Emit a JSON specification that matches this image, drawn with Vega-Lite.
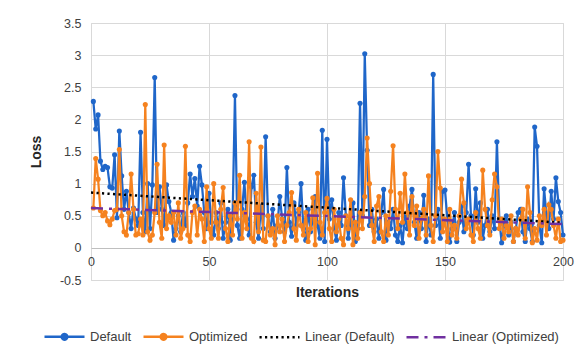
{
  "$schema": "https://vega.github.io/schema/vega-lite/v6.json",
  "width": 472,
  "height": 257,
  "autosize": {"type": "none"},
  "padding": {"left": 91, "top": 23, "right": 16, "bottom": 81},
  "background": "white",
  "config": {
    "font": "Liberation Sans",
    "view": {"stroke": "#D9D9D9"},
    "axis": {
      "labelFont": "Liberation Sans",
      "labelFontSize": 12.5,
      "labelColor": "#404040",
      "titleFont": "Liberation Sans",
      "titleFontSize": 14,
      "titleFontWeight": "bold",
      "titleColor": "#262626",
      "gridColor": "#D9D9D9",
      "gridWidth": 1,
      "ticks": false
    }
  },
  "datasets": {
    "loss": [
      {"iteration":1,"Default":2.28,"Optimized":0.62},{"iteration":2,"Default":1.85,"Optimized":1.39},{"iteration":3,"Default":2.07,"Optimized":1.07},{"iteration":4,"Default":1.35,"Optimized":0.58},{"iteration":5,"Default":1.22,"Optimized":0.5},
      {"iteration":6,"Default":1.27,"Optimized":0.55},{"iteration":7,"Default":1.25,"Optimized":0.42},{"iteration":8,"Default":0.95,"Optimized":0.36},{"iteration":9,"Default":0.93,"Optimized":0.45},{"iteration":10,"Default":1.45,"Optimized":0.58},
      {"iteration":11,"Default":0.47,"Optimized":0.6},{"iteration":12,"Default":1.82,"Optimized":1.53},{"iteration":13,"Default":1.12,"Optimized":0.5},{"iteration":14,"Default":0.6,"Optimized":0.25},{"iteration":15,"Default":0.88,"Optimized":0.2},
      {"iteration":16,"Default":0.55,"Optimized":0.55},{"iteration":17,"Default":0.3,"Optimized":1.15},{"iteration":18,"Default":0.62,"Optimized":0.6},{"iteration":19,"Default":0.45,"Optimized":0.2},{"iteration":20,"Default":0.35,"Optimized":0.22},
      {"iteration":21,"Default":1.8,"Optimized":0.45},{"iteration":22,"Default":0.55,"Optimized":0.2},{"iteration":23,"Default":0.25,"Optimized":2.23},{"iteration":24,"Default":1.0,"Optimized":0.25},{"iteration":25,"Default":0.3,"Optimized":0.12},
      {"iteration":26,"Default":0.98,"Optimized":0.2},{"iteration":27,"Default":2.65,"Optimized":0.55},{"iteration":28,"Default":0.55,"Optimized":1.3},{"iteration":29,"Default":0.95,"Optimized":0.4},{"iteration":30,"Default":0.6,"Optimized":0.15},
      {"iteration":31,"Default":0.35,"Optimized":1.6},{"iteration":32,"Default":0.98,"Optimized":0.3},{"iteration":33,"Default":0.72,"Optimized":0.5},{"iteration":34,"Default":0.55,"Optimized":0.4},{"iteration":35,"Default":0.12,"Optimized":0.55},
      {"iteration":36,"Default":0.3,"Optimized":0.2},{"iteration":37,"Default":0.5,"Optimized":0.7},{"iteration":38,"Default":0.25,"Optimized":0.15},{"iteration":39,"Default":0.55,"Optimized":0.3},{"iteration":40,"Default":0.35,"Optimized":1.58},
      {"iteration":41,"Default":0.7,"Optimized":0.2},{"iteration":42,"Default":1.15,"Optimized":0.1},{"iteration":43,"Default":0.8,"Optimized":0.55},{"iteration":44,"Default":1.08,"Optimized":0.65},{"iteration":45,"Default":0.65,"Optimized":0.2},
      {"iteration":46,"Default":1.27,"Optimized":0.6},{"iteration":47,"Default":0.98,"Optimized":0.45},{"iteration":48,"Default":0.55,"Optimized":0.1},{"iteration":49,"Default":0.3,"Optimized":0.95},{"iteration":50,"Default":0.85,"Optimized":0.3},
      {"iteration":51,"Default":0.4,"Optimized":0.15},{"iteration":52,"Default":0.2,"Optimized":1.0},{"iteration":53,"Default":0.55,"Optimized":0.4},{"iteration":54,"Default":0.3,"Optimized":0.15},{"iteration":55,"Default":0.7,"Optimized":0.6},
      {"iteration":56,"Default":0.15,"Optimized":0.94},{"iteration":57,"Default":0.4,"Optimized":0.3},{"iteration":58,"Default":0.6,"Optimized":0.1},{"iteration":59,"Default":0.12,"Optimized":0.5},{"iteration":60,"Default":0.5,"Optimized":0.2},
      {"iteration":61,"Default":2.37,"Optimized":0.7},{"iteration":62,"Default":0.35,"Optimized":0.45},{"iteration":63,"Default":0.15,"Optimized":1.13},{"iteration":64,"Default":0.6,"Optimized":0.15},{"iteration":65,"Default":1.02,"Optimized":0.55},
      {"iteration":66,"Default":0.45,"Optimized":0.3},{"iteration":67,"Default":0.2,"Optimized":1.65},{"iteration":68,"Default":0.95,"Optimized":0.15},{"iteration":69,"Default":1.13,"Optimized":0.1},{"iteration":70,"Default":0.4,"Optimized":0.85},
      {"iteration":71,"Default":0.15,"Optimized":0.25},{"iteration":72,"Default":0.65,"Optimized":1.57},{"iteration":73,"Default":0.3,"Optimized":0.12},{"iteration":74,"Default":1.73,"Optimized":0.1},{"iteration":75,"Default":0.5,"Optimized":0.5},
      {"iteration":76,"Default":0.25,"Optimized":0.2},{"iteration":77,"Default":0.6,"Optimized":0.3},{"iteration":78,"Default":0.15,"Optimized":0.05},{"iteration":79,"Default":0.35,"Optimized":0.5},{"iteration":80,"Default":0.8,"Optimized":0.25},
      {"iteration":81,"Default":0.45,"Optimized":0.45},{"iteration":82,"Default":0.25,"Optimized":0.1},{"iteration":83,"Default":1.25,"Optimized":0.35},{"iteration":84,"Default":0.4,"Optimized":0.55},{"iteration":85,"Default":0.18,"Optimized":0.86},
      {"iteration":86,"Default":0.7,"Optimized":0.3},{"iteration":87,"Default":0.35,"Optimized":0.12},{"iteration":88,"Default":0.55,"Optimized":0.6},{"iteration":89,"Default":1.0,"Optimized":0.35},{"iteration":90,"Default":0.3,"Optimized":0.2},
      {"iteration":91,"Default":0.12,"Optimized":0.55},{"iteration":92,"Default":0.6,"Optimized":0.1},{"iteration":93,"Default":0.25,"Optimized":0.3},{"iteration":94,"Default":0.45,"Optimized":0.78},{"iteration":95,"Default":0.8,"Optimized":0.05},
      {"iteration":96,"Default":0.35,"Optimized":1.16},{"iteration":97,"Default":0.15,"Optimized":0.4},{"iteration":98,"Default":1.83,"Optimized":0.2},{"iteration":99,"Default":0.1,"Optimized":0.55},{"iteration":100,"Default":1.69,"Optimized":0.77},
      {"iteration":101,"Default":0.45,"Optimized":0.3},{"iteration":102,"Default":0.75,"Optimized":0.1},{"iteration":103,"Default":0.3,"Optimized":0.6},{"iteration":104,"Default":0.12,"Optimized":0.25},{"iteration":105,"Default":0.55,"Optimized":0.45},
      {"iteration":106,"Default":0.35,"Optimized":0.15},{"iteration":107,"Default":1.09,"Optimized":0.05},{"iteration":108,"Default":0.5,"Optimized":0.5},{"iteration":109,"Default":0.15,"Optimized":0.3},{"iteration":110,"Default":0.4,"Optimized":0.75},
      {"iteration":111,"Default":0.7,"Optimized":0.05},{"iteration":112,"Default":0.1,"Optimized":0.4},{"iteration":113,"Default":0.3,"Optimized":0.15},{"iteration":114,"Default":2.25,"Optimized":0.55},{"iteration":115,"Default":0.5,"Optimized":0.3},
      {"iteration":116,"Default":3.02,"Optimized":0.8},{"iteration":117,"Default":1.52,"Optimized":1.71},{"iteration":118,"Default":0.35,"Optimized":1.0},{"iteration":119,"Default":0.6,"Optimized":0.35},{"iteration":120,"Default":0.25,"Optimized":0.1},
      {"iteration":121,"Default":0.45,"Optimized":0.65},{"iteration":122,"Default":0.15,"Optimized":0.8},{"iteration":123,"Default":0.55,"Optimized":0.25},{"iteration":124,"Default":0.91,"Optimized":0.1},{"iteration":125,"Default":0.12,"Optimized":0.5},
      {"iteration":126,"Default":0.4,"Optimized":0.2},{"iteration":127,"Default":0.3,"Optimized":0.88},{"iteration":128,"Default":0.6,"Optimized":1.59},{"iteration":129,"Default":0.2,"Optimized":0.6},{"iteration":130,"Default":0.1,"Optimized":0.3},
      {"iteration":131,"Default":0.35,"Optimized":0.85},{"iteration":132,"Default":0.08,"Optimized":0.4},{"iteration":133,"Default":0.5,"Optimized":1.15},{"iteration":134,"Default":0.3,"Optimized":0.55},{"iteration":135,"Default":0.65,"Optimized":0.2},
      {"iteration":136,"Default":0.91,"Optimized":0.8},{"iteration":137,"Default":0.4,"Optimized":0.35},{"iteration":138,"Default":0.15,"Optimized":0.65},{"iteration":139,"Default":0.55,"Optimized":0.15},{"iteration":140,"Default":0.3,"Optimized":0.45},
      {"iteration":141,"Default":0.82,"Optimized":0.6},{"iteration":142,"Default":0.1,"Optimized":0.2},{"iteration":143,"Default":0.45,"Optimized":1.12},{"iteration":144,"Default":0.2,"Optimized":0.35},{"iteration":145,"Default":2.7,"Optimized":0.1},
      {"iteration":146,"Default":0.35,"Optimized":0.5},{"iteration":147,"Default":0.6,"Optimized":1.5},{"iteration":148,"Default":0.15,"Optimized":0.93},{"iteration":149,"Default":0.88,"Optimized":0.25},{"iteration":150,"Default":0.9,"Optimized":0.45},
      {"iteration":151,"Default":0.45,"Optimized":0.1},{"iteration":152,"Default":0.09,"Optimized":0.6},{"iteration":153,"Default":0.3,"Optimized":0.2},{"iteration":154,"Default":0.55,"Optimized":0.35},{"iteration":155,"Default":0.1,"Optimized":0.15},
      {"iteration":156,"Default":0.4,"Optimized":0.5},{"iteration":157,"Default":0.65,"Optimized":1.07},{"iteration":158,"Default":0.25,"Optimized":0.7},{"iteration":159,"Default":0.55,"Optimized":0.3},{"iteration":160,"Default":1.3,"Optimized":0.45},
      {"iteration":161,"Default":0.5,"Optimized":0.2},{"iteration":162,"Default":0.2,"Optimized":0.1},{"iteration":163,"Default":0.92,"Optimized":0.55},{"iteration":164,"Default":0.4,"Optimized":0.3},{"iteration":165,"Default":0.7,"Optimized":0.15},
      {"iteration":166,"Default":0.15,"Optimized":1.21},{"iteration":167,"Default":0.35,"Optimized":0.6},{"iteration":168,"Default":0.6,"Optimized":0.35},{"iteration":169,"Default":0.25,"Optimized":0.2},{"iteration":170,"Default":0.5,"Optimized":0.75},
      {"iteration":171,"Default":0.3,"Optimized":1.15},{"iteration":172,"Default":1.65,"Optimized":0.95},{"iteration":173,"Default":0.45,"Optimized":0.3},{"iteration":174,"Default":0.08,"Optimized":0.45},{"iteration":175,"Default":0.35,"Optimized":0.15},
      {"iteration":176,"Default":0.5,"Optimized":0.35},{"iteration":177,"Default":0.2,"Optimized":0.25},{"iteration":178,"Default":0.4,"Optimized":0.5},{"iteration":179,"Default":0.1,"Optimized":0.1},{"iteration":180,"Default":0.3,"Optimized":0.3},
      {"iteration":181,"Default":0.55,"Optimized":0.2},{"iteration":182,"Default":0.6,"Optimized":0.45},{"iteration":183,"Default":0.25,"Optimized":0.6},{"iteration":184,"Default":0.1,"Optimized":0.15},{"iteration":185,"Default":0.45,"Optimized":0.95},
      {"iteration":186,"Default":0.3,"Optimized":0.55},{"iteration":187,"Default":0.1,"Optimized":0.08},{"iteration":188,"Default":1.88,"Optimized":0.3},{"iteration":189,"Default":1.58,"Optimized":0.12},{"iteration":190,"Default":0.35,"Optimized":0.5},
      {"iteration":191,"Default":0.08,"Optimized":0.35},{"iteration":192,"Default":0.92,"Optimized":0.6},{"iteration":193,"Default":0.5,"Optimized":0.2},{"iteration":194,"Default":0.3,"Optimized":0.67},{"iteration":195,"Default":0.88,"Optimized":0.6},
      {"iteration":196,"Default":0.45,"Optimized":0.35},{"iteration":197,"Default":1.09,"Optimized":0.15},{"iteration":198,"Default":0.72,"Optimized":0.45},{"iteration":199,"Default":0.55,"Optimized":0.1},{"iteration":200,"Default":0.2,"Optimized":0.12}
    ],
    "trend": [
      {"series": "Linear (Default)", "iteration": 0, "loss": 0.86},
      {"series": "Linear (Default)", "iteration": 200, "loss": 0.39},
      {"series": "Linear (Optimized)", "iteration": 0, "loss": 0.62},
      {"series": "Linear (Optimized)", "iteration": 200, "loss": 0.37}
    ]
  },
  "encoding": {
    "x": {
      "field": "iteration",
      "type": "quantitative",
      "scale": {"domain": [0, 200], "nice": false, "zero": false},
      "axis": {
        "title": "Iterations",
        "values": [0, 50, 100, 150, 200],
        "offset": -32,
        "domainColor": "#BFBFBF",
        "domainWidth": 1,
        "labelFlush": false,
        "labelPadding": 7,
        "titlePadding": 18
      }
    },
    "y": {
      "field": "loss",
      "type": "quantitative",
      "scale": {"domain": [-0.5, 3.5], "nice": false, "zero": false},
      "axis": {
        "title": "Loss",
        "values": [-0.5, 0, 0.5, 1, 1.5, 2, 2.5, 3, 3.5],
        "labelExpr": "'' + datum.value",
        "domain": false,
        "labelPadding": 10,
        "titlePadding": 16
      }
    },
    "color": {
      "field": "series",
      "type": "nominal",
      "scale": {
        "domain": ["Default", "Optimized", "Linear (Default)", "Linear (Optimized)"],
        "range": ["#1F66C9", "#F5821F", "#000000", "#7030A0"]
      },
      "legend": {
        "title": null,
        "orient": "none",
        "direction": "horizontal",
        "legendX": -48,
        "legendY": 292,
        "labelFont": "Liberation Sans",
        "labelFontSize": 13,
        "labelColor": "#404040",
        "symbolSize": 1600,
        "symbolStrokeWidth": 2.5,
        "labelOffset": 4,
        "columnPadding": 6,
        "encode": {
          "symbols": {
            "update": {
              "shape": {"signal": "datum.value === 'Default' || datum.value === 'Optimized' ? 'M-1,0H1M0.14,0A0.14,0.14,0,1,1,-0.14,0A0.14,0.14,0,1,1,0.14,0Z' : 'M-1,0H1'"},
              "fill": {"signal": "datum.value === 'Default' ? '#1F66C9' : datum.value === 'Optimized' ? '#F5821F' : 'transparent'"}
            }
          }
        }
      }
    },
    "strokeDash": {
      "field": "series",
      "type": "nominal",
      "scale": {
        "domain": ["Default", "Optimized", "Linear (Default)", "Linear (Optimized)"],
        "range": [[1, 0], [1, 0], [2.2, 3.3], [12, 6, 3, 6]]
      },
      "legend": {
        "title": null,
        "orient": "none",
        "direction": "horizontal",
        "legendX": -48,
        "legendY": 292
      }
    }
  },
  "layer": [
    {
      "data": {"name": "loss"},
      "transform": [{"fold": ["Default"], "as": ["series", "loss"]}],
      "mark": {"type": "line", "strokeWidth": 2.25, "point": {"filled": true, "size": 26}}
    },
    {
      "data": {"name": "loss"},
      "transform": [{"fold": ["Optimized"], "as": ["series", "loss"]}],
      "mark": {"type": "line", "strokeWidth": 2.25, "point": {"filled": true, "size": 26}}
    },
    {
      "data": {"name": "trend"},
      "mark": {"type": "line", "strokeWidth": 2.5}
    }
  ]
}
